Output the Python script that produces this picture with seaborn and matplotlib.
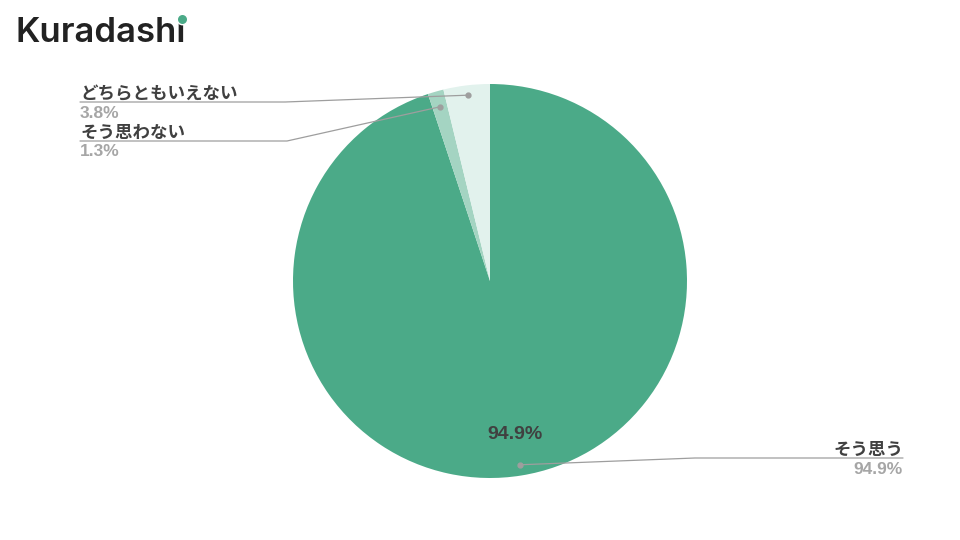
import matplotlib
matplotlib.use("Agg")
import matplotlib.pyplot as plt
import seaborn as sns
import numpy as np

sns.set_theme(style="white")
plt.rcParams['font.family'] = ['Noto Sans CJK JP', 'DejaVu Sans']

categories = ["そう思う", "そう思わない", "どちらともいえない"]
values = [94.9, 1.3, 3.8]
pct_labels = ["94.9%", "1.3%", "3.8%"]
colors = ["#4BAA88", "#A4D4C2", "#E2F2ED"]

fig = plt.figure(figsize=(9.6, 5.4), dpi=100)
ax = fig.add_axes([0, 0, 1, 1])
ax.set_xlim(0, 960)
ax.set_ylim(0, 540)
ax.set_aspect('equal')
ax.axis('off')

cx, cy, R = 490, 540 - 281, 197
wedges, _ = ax.pie(values, colors=colors, startangle=90, counterclock=False,
                   center=(cx, cy), radius=R, frame=True,
                   wedgeprops=dict(linewidth=0))
ax.set_xlim(0, 960)
ax.set_ylim(0, 540)
ax.axis('off')

def mid_point(w, frac):
    a = np.deg2rad((w.theta1 + w.theta2) / 2)
    return cx + frac * R * np.cos(a), cy + frac * R * np.sin(a)

line_c = "#9E9E9E"
dark = "#404040"
gray = "#A6A6A6"
num_font = ['Liberation Sans', 'DejaVu Sans']

# inside label for main slice
ix, iy = mid_point(wedges[0], 0.79)
ax.text(ix, iy, pct_labels[0], ha='center', va='center', fontsize=14,
        fontweight='bold', color=dark, family=num_font)

specs = [
    (2, 80, 102, 285, 'left', 0.95),
    (1, 80, 141, 287, 'left', 0.92),
    (0, 903, 458, 695, 'right', 0.945),
]
for idx, tx, uy, bend_x, side, frac in specs:
    px, py = mid_point(wedges[idx], frac)
    yb = 540 - uy
    ha = 'left' if side == 'left' else 'right'
    ax.plot([tx, bend_x, px], [yb, yb, py], color=line_c, lw=0.9, zorder=5)
    ax.text(tx, yb - 1, categories[idx], ha=ha, va='bottom', fontsize=12.6,
            fontweight='bold', color=dark)
    ax.text(tx, yb - 3.5, pct_labels[idx], ha=ha, va='top', fontsize=12.5,
            fontweight='bold', color=gray, family=num_font)
    ax.plot([px], [py], 'o', color=line_c, ms=3.5, zorder=6)

# logo
logo_kw = dict(ha='left', va='center', fontsize=25, fontweight='semibold',
               family=['Inter', 'DejaVu Sans'])
lx, ly = 16, 540 - 33
ax.text(lx, ly, "Kuradashi", color="#222222", **logo_kw)
fig.canvas.draw()
rend = fig.canvas.get_renderer()
tmp1 = ax.text(lx, ly, "Kuradash", alpha=0, **logo_kw)
tmp2 = ax.text(lx, ly, "Kuradashi", alpha=0, **logo_kw)
x_a = tmp1.get_window_extent(rend).x1
x_b = tmp2.get_window_extent(rend).x1
tmp1.remove(); tmp2.remove()
dot_x = (x_a + x_b) / 2
ax.plot([dot_x], [540 - 19], 'o', color="#4BAA88", ms=7.5, zorder=7,
        markeredgecolor='white', markeredgewidth=1.0)

fig.savefig("out.png", dpi=100)
